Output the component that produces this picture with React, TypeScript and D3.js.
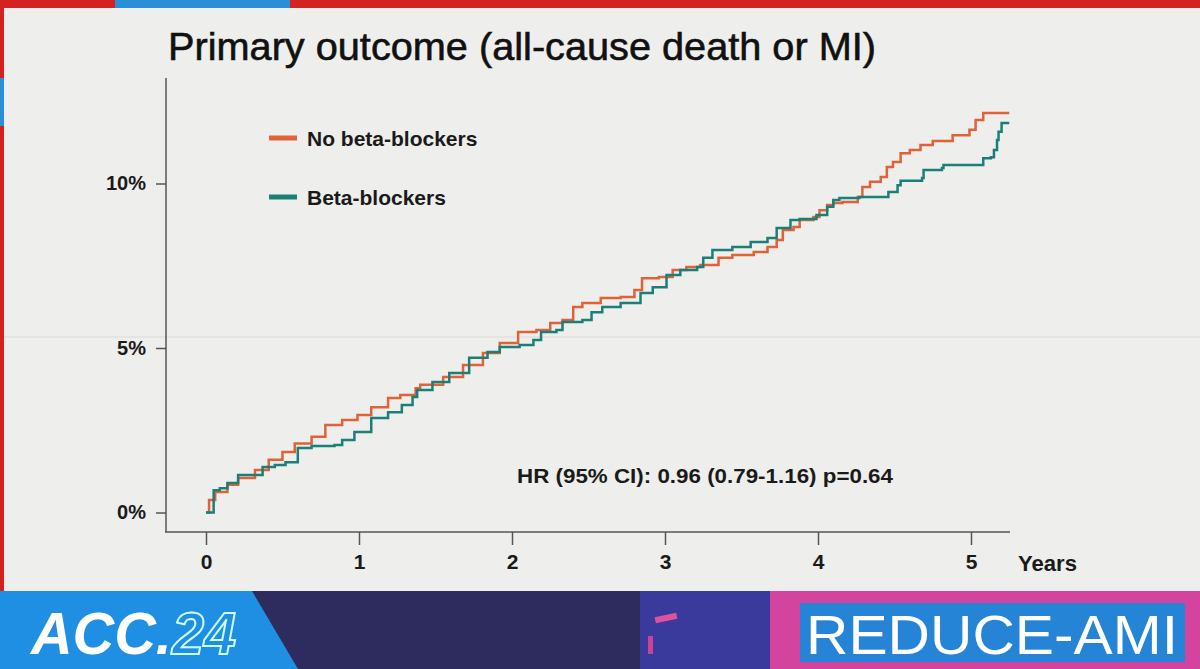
import React, { useEffect, useRef } from 'react';
import * as d3 from 'd3';

// Kaplan-Meier cumulative incidence (years, %)
const noBbYears = [0, 0.02, 0.06, 0.14, 0.21, 0.32, 0.41, 0.5, 0.58, 0.69, 0.78, 0.89, 0.99, 1.08, 1.19, 1.27, 1.37, 1.4, 1.55, 1.68, 1.81, 1.92, 2.04, 2.16, 2.25, 2.33, 2.4, 2.46, 2.58, 2.71, 2.8, 2.85, 2.96, 3.05, 3.14, 3.23, 3.35, 3.44, 3.58, 3.67, 3.73, 3.77, 3.84, 3.88, 3.97, 4.01, 4.06, 4.1, 4.16, 4.26, 4.29, 4.34, 4.41, 4.45, 4.49, 4.54, 4.6, 4.67, 4.75, 4.88, 4.99, 5.03, 5.08, 5.25];
const noBbPct = [0, 0.38, 0.62, 0.84, 1.05, 1.29, 1.6, 1.84, 2.1, 2.3, 2.66, 2.81, 2.96, 3.2, 3.48, 3.57, 3.78, 3.88, 4.12, 4.48, 4.85, 5.15, 5.49, 5.55, 5.76, 5.85, 6.25, 6.37, 6.52, 6.55, 6.76, 7.12, 7.16, 7.37, 7.46, 7.52, 7.74, 7.83, 7.92, 8.07, 8.28, 8.59, 8.68, 8.89, 8.98, 9.19, 9.35, 9.41, 9.44, 9.59, 9.89, 10.05, 10.2, 10.5, 10.65, 10.92, 11.02, 11.17, 11.29, 11.47, 11.63, 11.93, 12.14, 12.14];

const bbYears = [0, 0.05, 0.09, 0.14, 0.21, 0.37, 0.45, 0.52, 0.6, 0.69, 0.84, 0.89, 0.97, 1.08, 1.19, 1.28, 1.35, 1.38, 1.48, 1.59, 1.72, 1.84, 1.92, 2.05, 2.14, 2.19, 2.29, 2.33, 2.46, 2.52, 2.59, 2.71, 2.84, 2.92, 3.01, 3.1, 3.21, 3.25, 3.31, 3.44, 3.56, 3.67, 3.73, 3.82, 3.88, 3.99, 4.06, 4.1, 4.14, 4.27, 4.46, 4.52, 4.54, 4.68, 4.69, 4.81, 4.82, 5.07, 5.08, 5.13, 5.15, 5.17, 5.18, 5.2, 5.25];
const bbPct = [0, 0.68, 0.74, 0.9, 1.14, 1.38, 1.44, 1.53, 1.96, 2.02, 2.05, 2.2, 2.45, 2.87, 3.05, 3.27, 3.51, 3.72, 3.97, 4.24, 4.7, 4.88, 5.03, 5.09, 5.24, 5.49, 5.55, 5.79, 5.85, 6.09, 6.25, 6.37, 6.67, 6.85, 7.22, 7.37, 7.46, 7.74, 7.98, 8.07, 8.22, 8.34, 8.65, 8.89, 8.92, 9.04, 9.29, 9.5, 9.56, 9.59, 9.74, 9.95, 10.08, 10.17, 10.41, 10.47, 10.56, 10.56, 10.77, 10.8, 11.02, 11.32, 11.57, 11.84, 11.84];

const yTicks = [0, 5, 10];
const xTicks = [0, 1, 2, 3, 4, 5];
const seriesNames = ['No beta-blockers', 'Beta-blockers'];
const seriesColors = ['#df6238', '#1b7f78'];

const FONT = '"Liberation Sans", Arial, sans-serif';

const App = () => {
  const xAxisRef = useRef<SVGGElement>(null);
  const yAxisRef = useRef<SVGGElement>(null);

  const x = d3.scaleLinear().domain([0, 5]).range([206, 971]);
  const y = d3.scaleLinear().domain([0, 10]).range([512.5, 183.5]);

  const line = d3.line<[number, number]>()
    .x(d => x(d[0]))
    .y(d => y(d[1]))
    .curve(d3.curveStepAfter);

  const series = [
    noBbYears.map((t, i) => [t, noBbPct[i]] as [number, number]),
    bbYears.map((t, i) => [t, bbPct[i]] as [number, number]),
  ];

  useEffect(() => {
    const gx = d3.select(xAxisRef.current);
    gx.selectAll('*').remove();
    gx.call(d3.axisBottom(x).tickValues(xTicks).tickSize(13).tickPadding(9).tickFormat(d => String(d)));
    gx.select('.domain').remove();
    gx.selectAll('line').attr('stroke', '#555').attr('stroke-width', 1.5);
    gx.selectAll('text').attr('font-family', FONT).attr('font-size', 21).attr('font-weight', 'bold').attr('fill', '#1a1a1a');

    const gy = d3.select(yAxisRef.current);
    gy.selectAll('*').remove();
    gy.call(d3.axisLeft(y).tickValues(yTicks).tickSize(10).tickPadding(10).tickFormat(d => `${d}%`));
    gy.select('.domain').remove();
    gy.selectAll('line').attr('stroke', '#555').attr('stroke-width', 1.5);
    gy.selectAll('text').attr('font-family', FONT).attr('font-size', 20).attr('font-weight', 'bold').attr('fill', '#1a1a1a');
  }, []);

  return (
    <svg width={1200} height={669} style={{ position: 'absolute', left: 0, top: 0 }}>
      {/* slide + photo edges */}
      <rect x={0} y={0} width={1200} height={669} fill="#eeeeec" />
      <rect x={0} y={336} width={1200} height={2} fill="#e4e4e2" />
      <rect x={0} y={0} width={1200} height={8} fill="#d42222" />
      <rect x={115} y={0} width={175} height={8} fill="#2a8fd6" />
      <rect x={0} y={0} width={4} height={592} fill="#d42222" />
      <rect x={0} y={78} width={4} height={48} fill="#2a8fd6" />

      {/* title */}
      <text x={168} y={60} fontFamily={FONT} fontSize={39} fill="#111" stroke="#111" strokeWidth={0.6}
        textLength={708} lengthAdjust="spacingAndGlyphs">Primary outcome (all-cause death or MI)</text>

      {/* axis lines */}
      <line x1={166} x2={166} y1={78} y2={532} stroke="#555" strokeWidth={1.5} />
      <line x1={165} x2={1010} y1={532} y2={532} stroke="#555" strokeWidth={1.5} />
      <g ref={yAxisRef} transform="translate(166,0)" />
      <g ref={xAxisRef} transform="translate(0,532)" />
      <text x={1018} y={571} fontFamily={FONT} fontSize={22} fontWeight="bold" fill="#1a1a1a"
        textLength={59} lengthAdjust="spacingAndGlyphs">Years</text>

      {/* curves */}
      {series.map((s, i) => (
        <path key={i} d={line(s) || ''} fill="none" stroke={seriesColors[i]} strokeWidth={2.5} />
      ))}

      {/* legend */}
      {seriesNames.map((name, i) => (
        <g key={name} transform={`translate(269,${138 + i * 59})`}>
          <line x1={0} x2={28} y1={0} y2={0} stroke={seriesColors[i]} strokeWidth={5} />
          <text x={38} y={8} fontFamily={FONT} fontSize={21} fontWeight="bold" fill="#1a1a1a">{name}</text>
        </g>
      ))}

      <text x={517} y={483} fontFamily={FONT} fontSize={21} fontWeight="bold" fill="#1a1a1a"
        textLength={376} lengthAdjust="spacingAndGlyphs">HR (95% CI): 0.96 (0.79-1.16) p=0.64</text>

      {/* conference banner */}
      <rect x={0} y={591} width={1200} height={78} fill="#2e2b5e" />
      <rect x={640} y={591} width={560} height={78} fill="#3a3a9c" />
      <rect x={770} y={591} width={430} height={78} fill="#d2449e" />
      <polygon points="0,591 252,591 298,669 0,669" fill="#1f8fe4" />
      <rect x={655} y={615} width={22} height={6} fill="#e0509e" transform="rotate(-12 666 618)" />
      <rect x={648} y={636} width={5} height={18} fill="#c8449a" />
      <text x={31} y={654} fontFamily={FONT} fontSize={60} fontStyle="italic" fontWeight="bold"
        fill="#ffffff" textLength={205} lengthAdjust="spacingAndGlyphs">
        ACC.<tspan fill="#1f8fe4" stroke="#cfffff" strokeWidth={2}>24</tspan>
      </text>
      <rect x={800} y={603} width={385} height={59} fill="#2584d6" />
      <text x={806} y={654} fontFamily={FONT} fontSize={56} fill="#ffffff"
        textLength={372} lengthAdjust="spacingAndGlyphs">REDUCE-AMI</text>
    </svg>
  );
};

export default App;
